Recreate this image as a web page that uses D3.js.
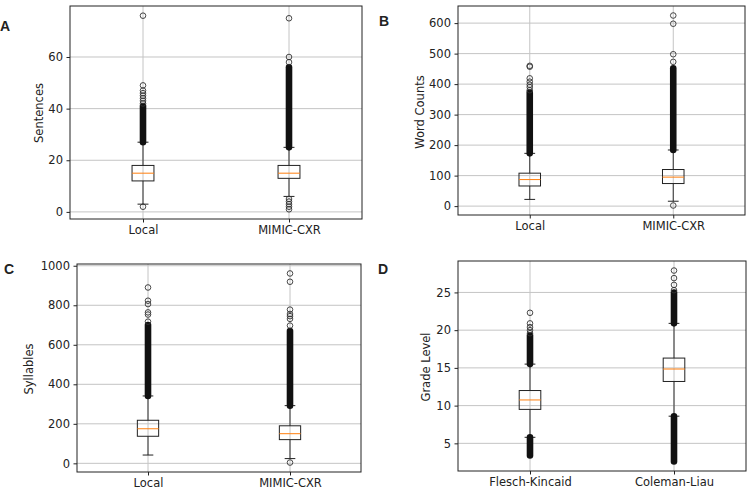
<!DOCTYPE html>
<html>
<head>
<meta charset="utf-8">
<script src="https://cdn.jsdelivr.net/npm/d3@7"></script>
<style>
  body { margin: 0; background: #fff; }
  text { font-family: "DejaVu Sans", sans-serif; fill: #222; }
</style>
</head>
<body>
<svg id="chart" width="750" height="495"></svg>
<script>
// A: sentences — stats are [whisker low, q1, median, q3, whisker high]
const sentCats = ["Local", "MIMIC-CXR"];
const sentStats = [[3, 12, 15, 18, 27], [6, 13, 15, 18, 25]];
const sentDense = [[[27, 41]], [[25, 56]]];
const sentOutliers = [[2, 42, 43, 44, 45, 46, 47, 49, 76], [1, 2, 3, 4, 5, 58, 60, 75]];
const sentTicks = [0, 20, 40, 60];

// B: word counts
const wordCats = ["Local", "MIMIC-CXR"];
const wordStats = [[22, 66, 87, 108, 173], [16, 74, 95, 120, 184]];
const wordDense = [[[173, 372]], [[184, 452]]];
const wordOutliers = [[380, 390, 398, 408, 419, 457, 460], [2, 473, 498, 598, 625]];
const wordTicks = [0, 100, 200, 300, 400, 500, 600];

// C: syllables
const sylCats = ["Local", "MIMIC-CXR"];
const sylStats = [[42, 137, 175, 218, 341], [24, 120, 150, 190, 292]];
const sylDense = [[[341, 700]], [[292, 670]]];
const sylOutliers = [[717, 753, 764, 806, 823, 890], [4, 697, 731, 745, 756, 778, 919, 961]];
const sylTicks = [0, 200, 400, 600, 800, 1000];

// D: grade level
const gradeCats = ["Flesch-Kincaid", "Coleman-Liau"];
const gradeStats = [[5.8, 9.5, 10.75, 12.0, 15.5], [8.6, 13.2, 14.85, 16.3, 20.9]];
const gradeDense = [[[15.5, 19.3], [3.4, 5.8]], [[20.9, 25.0], [2.6, 8.6]]];
const gradeOutliers = [[19.6, 20.0, 20.4, 20.9, 22.3], [25.3, 26.0, 26.9, 27.9]];
const gradeTicks = [5, 10, 15, 20, 25];

const panels = [
  { tag: "A", label: "Sentences", cats: sentCats, stats: sentStats, dense: sentDense, outl: sentOutliers, ticks: sentTicks,
    x0: 70, x1: 362, y0: 6, y1: 219, tagX: 0, tagY: 31, labX: 43, labY: 113 },
  { tag: "B", label: "Word Counts", cats: wordCats, stats: wordStats, dense: wordDense, outl: wordOutliers, ticks: wordTicks,
    x0: 458, x1: 745, y0: 6, y1: 215, tagX: 379, tagY: 26, labX: 424, labY: 112 },
  { tag: "C", label: "Syllables", cats: sylCats, stats: sylStats, dense: sylDense, outl: sylOutliers, ticks: sylTicks,
    x0: 77, x1: 361, y0: 264, y1: 472, tagX: 4, tagY: 274, labX: 33, labY: 369 },
  { tag: "D", label: "Grade Level", cats: gradeCats, stats: gradeStats, dense: gradeDense, outl: gradeOutliers, ticks: gradeTicks,
    x0: 458, x1: 746, y0: 261, y1: 471, tagX: 378, tagY: 274, labX: 430, labY: 367 }
];

const svg = d3.select("#chart");
const r = 2.8;

panels.forEach(p => {
  const g = svg.append("g");

  // y-range like matplotlib autoscale: data extent plus 5% margin
  const all = p.stats.flat().concat(p.dense.flat(2), p.outl.flat());
  const lo = d3.min(all), hi = d3.max(all), m = (hi - lo) * 0.05;

  const x = d3.scaleLinear().domain([0.5, 2.5]).range([p.x0, p.x1]);
  const y = d3.scaleLinear().domain([lo - m, hi + m]).range([p.y1, p.y0]);
  const pos = p.cats.map((c, i) => i + 1);

  // grid
  g.append("g").selectAll("line").data(p.ticks).join("line")
    .attr("x1", p.x0).attr("x2", p.x1)
    .attr("y1", d => y(d)).attr("y2", d => y(d))
    .attr("stroke", "#c4c4c4").attr("stroke-width", 1);
  g.append("g").selectAll("line").data(pos).join("line")
    .attr("x1", d => x(d)).attr("x2", d => x(d))
    .attr("y1", p.y0).attr("y2", p.y1)
    .attr("stroke", "#c4c4c4").attr("stroke-width", 1);

  // axes
  const yAxis = d3.axisLeft(y).tickValues(p.ticks).tickSize(3.5).tickPadding(3.5).tickFormat(d3.format("d"));
  const xAxis = d3.axisBottom(x).tickValues(pos).tickSize(3.5).tickPadding(3.5).tickFormat((d, i) => p.cats[i]);
  const ya = g.append("g").attr("transform", `translate(${p.x0},0)`).call(yAxis);
  const xa = g.append("g").attr("transform", `translate(0,${p.y1})`).call(xAxis);
  [ya, xa].forEach(a => {
    a.select(".domain").remove();
    a.selectAll("text").style("font-size", "11.5px").style("font-family", "DejaVu Sans, sans-serif").attr("fill", "#222");
    a.selectAll("line").attr("stroke", "#222");
  });

  const bw = 0.15;
  p.stats.forEach((s, i) => {
    const cx = pos[i];
    // whiskers
    g.append("line").attr("x1", x(cx)).attr("x2", x(cx)).attr("y1", y(s[0])).attr("y2", y(s[1]))
      .attr("stroke", "#333").attr("stroke-width", 1);
    g.append("line").attr("x1", x(cx)).attr("x2", x(cx)).attr("y1", y(s[3])).attr("y2", y(s[4]))
      .attr("stroke", "#333").attr("stroke-width", 1);
    // caps
    [s[0], s[4]].forEach(v => {
      g.append("line").attr("x1", x(cx - bw / 4)).attr("x2", x(cx + bw / 4))
        .attr("y1", y(v)).attr("y2", y(v)).attr("stroke", "#222").attr("stroke-width", 1);
    });
    // box
    g.append("rect").attr("x", x(cx - bw / 2)).attr("width", x(cx + bw / 2) - x(cx - bw / 2))
      .attr("y", y(s[3])).attr("height", y(s[1]) - y(s[3]))
      .attr("fill", "none").attr("stroke", "#222").attr("stroke-width", 1);
    // median
    g.append("line").attr("x1", x(cx - bw / 2)).attr("x2", x(cx + bw / 2))
      .attr("y1", y(s[2])).attr("y2", y(s[2])).attr("stroke", "#ff7f0e").attr("stroke-width", 1);

    // dense runs of outliers, drawn as one solid column of overlapping markers
    p.dense[i].forEach(d => {
      g.append("rect").attr("x", x(cx) - r - 0.5).attr("width", 2 * r + 1)
        .attr("y", y(d[1]) - r - 0.5).attr("height", y(d[0]) - y(d[1]) + 2 * r + 1)
        .attr("rx", r + 0.5).attr("fill", "#111");
    });
    // single outliers
    g.append("g").selectAll("circle").data(p.outl[i]).join("circle")
      .attr("cx", x(cx)).attr("cy", d => y(d)).attr("r", r)
      .attr("fill", "none").attr("stroke", "#333").attr("stroke-width", 0.9);
  });

  // frame
  g.append("rect").attr("x", p.x0).attr("y", p.y0).attr("width", p.x1 - p.x0).attr("height", p.y1 - p.y0)
    .attr("fill", "none").attr("stroke", "#222").attr("stroke-width", 1);

  // axis label + panel tag
  g.append("text").attr("transform", `translate(${p.labX},${p.labY}) rotate(-90)`)
    .attr("text-anchor", "middle").style("font-size", "11.5px").text(p.label);
  g.append("text").attr("x", p.tagX).attr("y", p.tagY)
    .style("font-family", "Liberation Sans, sans-serif").style("font-weight", "bold").style("font-size", "14px")
    .text(p.tag);
});
</script>
</body>
</html>
